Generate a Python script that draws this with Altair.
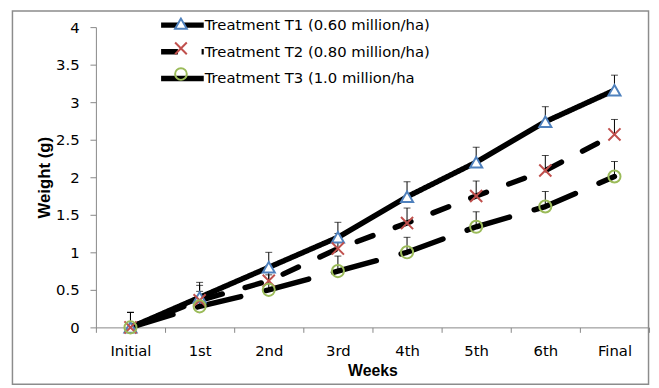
import altair as alt
import pandas as pd

weeks = ["Initial", "1st", "2nd", "3rd", "4th", "5th", "6th", "Final"]
series_names = [
    "Treatment T1 (0.60 million/ha)",
    "Treatment T2 (0.80 million/ha)",
    "Treatment T3 (1.0 million/ha",
]
series_keys = ["T1", "T2", "T3"]
t1_values = [0, 0.40, 0.80, 1.20, 1.74, 2.20, 2.74, 3.16]
t2_values = [0, 0.36, 0.62, 1.05, 1.39, 1.75, 2.09, 2.57]
t3_values = [0, 0.28, 0.50, 0.75, 1.00, 1.34, 1.61, 2.01]
t1_err = [0.2, 0.2, 0.2, 0.2, 0.2, 0.2, 0.2, 0.2]
t2_err = [0.2, 0.2, 0.2, 0.2, 0.2, 0.2, 0.2, 0.2]
t3_err = [0.2, 0.2, 0.2, 0.2, 0.2, 0.2, 0.2, 0.2]
y_ticks = [0, 0.5, 1, 1.5, 2, 2.5, 3, 3.5, 4]

marker_colors = ["#4F81BD", "#C0504D", "#9BBB59"]
marker_fills = ["white", "transparent", "transparent"]
marker_shapes = ["triangle-up", "M-1,-1L1,1M-1,1L1,-1", "circle"]
dash_patterns = [[1, 0], [17, 24], [45, 26]]

rows = []
for name, key, vals, errs in zip(series_names, series_keys,
                                 [t1_values, t2_values, t3_values],
                                 [t1_err, t2_err, t3_err]):
    for w, v, e in zip(weeks, vals, errs):
        rows.append({"week": w, "value": v, "top": v + e,
                     "series": name, "key": key})
df = pd.DataFrame(rows)

FONT = "DejaVu Sans"
TITLE_FONT = "Liberation Sans"

x_enc = alt.X(
    "week:N", sort=weeks, bandPosition=0.5,
    scale=alt.Scale(type="band", paddingInner=0, paddingOuter=0),
    axis=alt.Axis(
        title="Weeks", labelAngle=0, tickBand="extent",
        domainColor="#868686", tickColor="#868686", tickSize=5,
        labelFont=FONT, labelFontSize=15, labelColor="black", labelPadding=11,
        titleFont=TITLE_FONT, titleFontSize=16, titleFontWeight="bold",
        titleColor="black", titleY=44, titleBaseline="middle",
    ),
)
y_scale = alt.Scale(domain=[0, 4], nice=False)
y_axis = alt.Axis(
    title="Weight (g)", values=y_ticks, format="~g", grid=False,
    labelOverlap=False, tickCount=20,
    domainColor="#868686", tickColor="#868686", tickSize=6,
    labelFont=FONT, labelFontSize=15, labelColor="black", labelPadding=11,
    titleFont=TITLE_FONT, titleFontSize=17, titleFontWeight="bold",
    titleColor="black", titleX=-52, titleY=152, titleBaseline="middle",
    titleAlign="center",
)


def yv(field):
    return alt.Y(field, scale=y_scale, axis=y_axis)


legend_common = dict(
    title=None, orient="none", legendX=78.6, legendY=-11, padding=0,
    symbolSize=140, labelFont=FONT, labelFontSize=15, labelColor="black",
    labelOffset=13.6, rowPadding=5.0, labelLimit=0,
)

base = alt.Chart(df)

lines = base.mark_line(color="black", strokeWidth=5.5, strokeCap="round",
                       strokeJoin="round").encode(
    x=x_enc,
    y=yv("value:Q"),
    strokeDash=alt.StrokeDash(
        "series:N",
        scale=alt.Scale(domain=series_names, range=dash_patterns),
        legend=alt.Legend(symbolType="M-3.65,0L3.65,0", symbolStrokeWidth=5.5,
                          symbolStrokeColor="black",
                          symbolFillColor="transparent", **legend_common),
    ),
    order=alt.Order("series:N"),
)

rules = base.mark_rule(color="black", strokeWidth=1).encode(
    x=x_enc, y=yv("value:Q"), y2="top:Q",
)
caps = base.mark_tick(color="black", thickness=1, size=7).encode(
    x=x_enc, y=yv("top:Q"),
)

marker_legend = alt.Legend(symbolStrokeWidth=2, labelExpr="''", **legend_common)
points = base.mark_point(filled=False, strokeWidth=2, size=150, opacity=1).encode(
    x=x_enc,
    y=yv("value:Q"),
    color=alt.Color("key:N", scale=alt.Scale(domain=series_keys, range=marker_colors),
                    legend=marker_legend),
    shape=alt.Shape("key:N", scale=alt.Scale(domain=series_keys, range=marker_shapes),
                    legend=marker_legend),
    fill=alt.Fill("key:N", scale=alt.Scale(domain=series_keys, range=marker_fills),
                  legend=marker_legend),
)

border = alt.Chart(pd.DataFrame({"a": [0]})).mark_rect(
    fill="transparent", stroke="#8c8c8c", strokeWidth=1.5
).encode(
    x=alt.value(-84.5), x2=alt.value(559.5), y=alt.value(-16.25), y2=alt.value(361.5)
)

chart = alt.layer(border, lines, rules, caps, points).properties(
    width=560, height=304,
    padding={"left": 89, "top": 17, "right": 2, "bottom": 59},
    autosize=alt.AutoSizeParams(type="none"),
).configure_view(stroke=None)

chart.save("out.html", embed_options={"renderer": "svg", "actions": False})
